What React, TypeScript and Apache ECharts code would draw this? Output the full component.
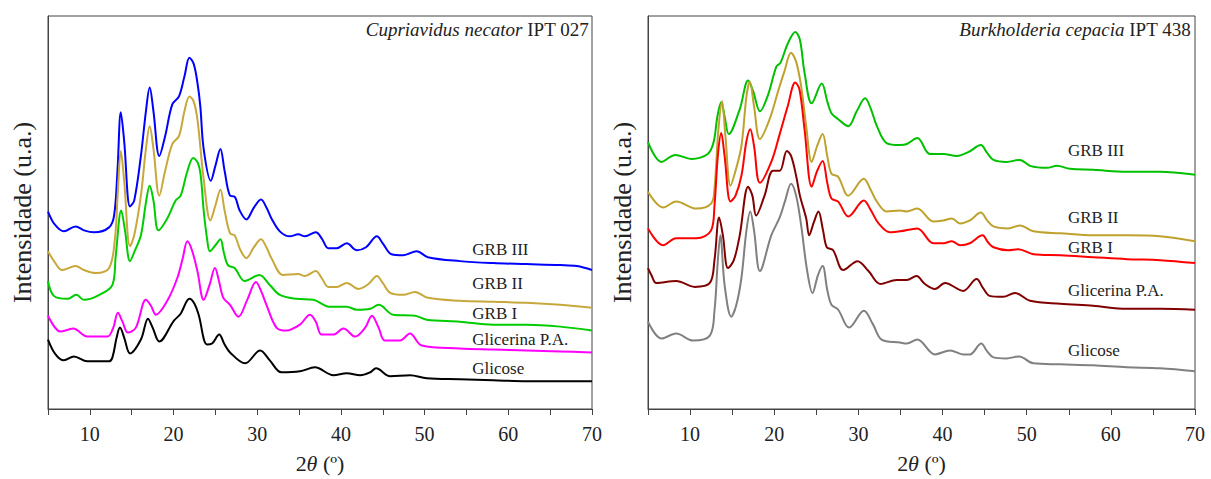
import React, { useEffect, useRef } from "react";
import * as echarts from "echarts";

// ---- data (x = 2θ in degrees, y = intensity in arbitrary units) ----
const xLabels = [10, 20, 30, 40, 50, 60, 70];

const namesLeft = ["GRB III", "GRB II", "GRB I", "Glicerina P.A.", "Glicose"];
const namesRight = ["GRB III", "GRB II", "GRB I", "Glicerina P.A.", "Glicose"];

const colorsLeft = ["#0000FF", "#C8A83C", "#00CC00", "#FF00FF", "#000000"];
const colorsRight = ["#00C000", "#BFA22E", "#FF0000", "#800000", "#808080"];

const leftGRB3 = [[5,199],[5.8,186],[6.9,179],[8.3,184],[9.3,180],[10.5,178],[12.3,183],[12.9,195],[13.3,240],[13.7,299],[14.1,270],[14.8,204],[15.3,210],[16.1,255],[16.7,300],[17.15,324],[17.6,300],[18.3,255],[19.0,275],[19.85,307],[20.65,315],[21.3,335],[21.9,354],[22.4,348],[22.85,329],[23.2,305],[23.6,262],[24.45,230],[25.0,245],[25.6,262],[26.1,240],[26.75,215],[27.3,214],[27.9,200],[28.7,191],[29.6,203],[30.45,211],[31.1,203],[31.7,192],[32.7,179],[33.9,174],[34.9,176],[35.7,174],[37.0,178],[37.7,172],[38.5,162],[39.5,162],[40.7,167],[41.9,160],[43.0,163],[44.3,174],[45.0,167],[46.05,156],[47.45,155],[49.05,159],[50.4,153],[54.2,149],[58.2,147],[62.2,146],[66.2,145],[68.2,144],[70,140]];
const leftGRB2 = [[5,159],[5.8,148],[6.7,140],[8.3,144],[9.3,140],[10.7,137],[12.3,142],[13.0,172],[13.35,220],[13.7,260],[14.1,230],[14.8,164],[15.3,175],[16.1,215],[16.7,262],[17.15,285],[17.6,262],[18.3,215],[19.0,240],[19.85,267],[20.65,275],[21.3,300],[21.9,315],[22.4,310],[22.85,292],[23.6,232],[24.4,190],[25.0,205],[25.6,221],[26.1,200],[26.75,177],[27.3,175],[28.0,160],[28.7,152],[29.6,163],[30.45,171],[31.1,163],[31.7,152],[33.1,135],[34.9,136],[35.7,134],[37.0,139],[37.7,132],[38.5,123],[39.5,123],[40.7,127],[42.1,121],[43.3,126],[44.3,134],[45.0,127],[45.9,117],[47.45,115],[48.85,118],[50.4,112],[54.2,109],[58.2,108],[62.2,107],[66.2,105],[70,102]];
const leftGRB1 = [[5,129],[5.7,114],[7.3,111],[8.4,115],[9.3,110],[10.9,114],[12.7,125],[13.1,155],[13.75,200],[14.2,180],[14.8,149],[15.4,160],[16.1,175],[16.7,208],[17.15,225],[17.6,210],[18.2,180],[19.25,192],[20.25,210],[20.85,215],[21.6,238],[22.35,253],[22.9,248],[23.25,235],[23.6,200],[24.0,172],[24.35,159],[25.0,165],[25.6,171],[26.0,158],[26.5,145],[27.3,142],[28.5,129],[30.25,135],[31.5,125],[32.7,115],[34.7,111],[36.7,110],[38.7,103],[40.7,103],[41.9,100],[43.5,101],[44.5,105],[46.25,95],[48.85,94],[50.25,90],[54.2,88],[58.2,85],[62.2,85],[66.2,83],[70,79]];
const leftGlicerina = [[5,94],[6.5,78],[8.0,81],[9.7,73],[12.1,73],[12.8,82],[13.35,97],[13.9,88],[14.55,77],[15.5,82],[16.7,110],[17.3,104],[17.9,95],[19.25,109],[20.45,132],[21.1,152],[21.65,169],[22.2,160],[22.85,139],[23.6,110],[24.3,125],[24.95,142],[25.4,130],[25.95,112],[26.75,105],[27.75,93],[28.8,110],[29.85,128],[30.5,118],[31.1,105],[32.3,82],[33.5,79],[35.1,85],[36.3,95],[37.0,88],[37.7,75],[39.1,75],[40.3,81],[41.7,73],[42.9,82],[43.7,94],[44.5,82],[45.25,69],[47.05,69],[48.25,76],[49.65,64],[54.2,61],[58.2,60],[62.2,59],[66.2,58],[70,57]];
const leftGlicose = [[5,70],[5.9,55],[6.9,49],[8.1,53],[9.7,48],[12.3,48],[12.7,52],[13.2,72],[13.6,82],[14.1,72],[14.8,56],[16.1,70],[16.95,91],[17.5,82],[18.3,68],[20.05,89],[20.85,96],[21.9,111],[22.5,106],[23.0,95],[24.0,65],[24.6,66],[25.45,75],[26.1,65],[26.75,57],[28.55,46],[30.35,59],[31.5,49],[32.9,37],[35.1,38],[36.9,42],[39.1,34],[40.7,36],[42.3,34],[43.5,37],[44.2,41],[45.9,33],[48.25,34],[50.25,31],[54.2,30],[58.2,29],[62.2,28],[66.2,28],[70,28]];

const rightGRB3 = [[5,269],[6.6,249],[8.25,256],[10.15,252],[12.1,257],[12.8,269],[13.25,295],[13.7,309],[14.1,295],[14.6,277],[15.9,302],[16.9,331],[17.5,320],[18.3,300],[19.25,316],[20.25,345],[20.75,349],[21.6,368],[22.5,380],[23.05,372],[23.6,339],[24.45,308],[25.65,328],[26.3,310],[26.8,298],[27.6,292],[28.8,285],[29.8,300],[30.8,313],[31.5,302],[32.2,285],[33.35,268],[34.95,266],[35.75,267],[37.0,273],[38.5,257],[40.1,257],[41.7,255],[43.1,259],[44.55,266],[45.3,258],[46.05,251],[47.6,249],[49.2,251],[50.4,245],[52.4,243],[53.6,245],[55.15,242],[57.9,241],[61.9,239],[65.85,239],[67.8,238],[70,236]];
const rightGRB2 = [[5,219],[6.8,203],[8.35,209],[10.75,202],[12.5,207],[12.9,222],[13.35,280],[13.8,310],[14.2,275],[14.8,225],[15.4,240],[16.1,265],[16.7,315],[17.1,330],[17.6,305],[18.3,272],[19.45,292],[20.45,320],[21.2,340],[22.0,359],[22.6,350],[23.2,325],[23.8,285],[24.45,249],[25.1,265],[25.75,277],[26.3,255],[26.8,237],[27.6,234],[28.8,215],[30.65,232],[31.4,222],[32.2,209],[33.35,199],[34.95,200],[35.75,199],[37.0,202],[38.9,189],[40.1,190],[41.1,192],[42.1,187],[43.25,190],[44.55,198],[45.3,190],[46.05,184],[47.8,182],[49.2,185],[50.8,179],[54.0,177],[57.9,175],[61.9,175],[65.85,174],[70,169]];
const rightGRB1 = [[5,182],[6.8,165],[8.35,172],[10.75,172],[12.5,180],[12.9,205],[13.3,255],[13.7,278],[14.1,255],[14.8,209],[15.4,215],[16.1,235],[16.7,270],[17.15,282],[17.6,265],[18.3,228],[19.65,249],[20.65,277],[21.6,305],[22.5,329],[23.0,322],[23.6,282],[24.45,224],[25.1,240],[25.75,250],[26.3,228],[26.8,212],[27.6,209],[28.8,194],[30.65,210],[31.5,200],[32.4,187],[33.75,178],[34.95,179],[37.0,182],[38.9,167],[40.1,167],[41.1,169],[42.1,165],[43.25,167],[44.75,175],[45.4,168],[46.05,163],[47.8,160],[49.0,161],[50.8,156],[54.0,155],[57.9,153],[61.9,151],[65.85,150],[70,147]];
const rightGlicerina = [[5,142],[5.4,135],[6.0,127],[8.35,129],[10.55,123],[12.35,127],[12.9,150],[13.45,193],[13.9,175],[14.5,142],[15.2,150],[15.9,175],[16.9,224],[17.4,215],[17.85,195],[18.85,215],[19.85,240],[20.65,240],[21.5,260],[22.0,255],[22.6,235],[23.05,215],[23.8,192],[24.15,175],[24.7,188],[25.25,199],[25.8,180],[26.25,163],[27.0,160],[28.2,140],[29.9,149],[31.2,139],[32.6,126],[34.55,130],[35.75,130],[36.9,134],[37.9,126],[39.1,121],[40.3,127],[42.45,119],[44.05,131],[44.8,122],[45.6,114],[47.2,113],[48.6,117],[50.4,109],[54.0,106],[57.9,104],[61.9,101],[65.85,101],[70,100]];
const rightGlicose = [[5,88],[6.6,71],[8.35,76],[10.35,69],[12.35,74],[12.9,99],[13.3,150],[13.6,175],[14.1,125],[14.9,93],[15.5,105],[16.1,132],[16.7,180],[17.15,199],[17.6,180],[18.3,139],[19.65,175],[20.65,193],[21.3,210],[22.0,227],[22.6,215],[23.2,185],[23.9,140],[24.55,117],[25.2,135],[25.75,144],[26.3,120],[26.8,105],[27.6,100],[28.9,82],[30.65,99],[31.75,85],[32.75,70],[34.95,67],[35.75,66],[37.0,70],[39.1,55],[40.9,59],[42.45,55],[43.25,55],[44.6,66],[45.3,58],[46.05,52],[47.6,51],[49.1,53],[50.8,46],[54.0,45],[57.9,44],[61.9,42],[65.85,41],[70,38]];

// label anchor points (data coordinates) for the curve names
const labelAnchorsLeft = [[55.7,161],[55.7,126],[55.7,96],[55.7,70],[55.7,41]];
const labelAnchorsRight = [[54.9,260],[54.9,193],[54.9,163],[54.9,119],[54.9,59]];

const dataLeft = [leftGRB3, leftGRB2, leftGRB1, leftGlicerina, leftGlicose];
const dataRight = [rightGRB3, rightGRB2, rightGRB1, rightGlicerina, rightGlicose];

const FONT = "'Liberation Serif', 'Times New Roman', serif";
const AXIS_COLOR = "#444";
const TEXT_COLOR = "#222";

function makeXAxis(gridIndex: number) {
  return {
    type: "value",
    gridIndex,
    min: 5,
    max: 70,
    interval: 5,
    name: "2{i|θ} (º)",
    nameLocation: "middle",
    nameGap: 43,
    nameTextStyle: {
      fontFamily: FONT,
      fontSize: 22,
      color: TEXT_COLOR,
      rich: { i: { fontStyle: "italic", fontFamily: FONT, fontSize: 22, color: TEXT_COLOR } },
    },
    axisLine: { show: true, lineStyle: { color: AXIS_COLOR, width: 1 } },
    axisTick: { show: true, length: 6, lineStyle: { color: AXIS_COLOR } },
    axisLabel: {
      margin: 15,
      fontFamily: FONT,
      fontSize: 20,
      color: TEXT_COLOR,
      formatter: (v: number) => (xLabels.includes(v) ? String(v) : ""),
    },
    splitLine: { show: false },
  };
}

function makeYAxis(gridIndex: number) {
  return {
    type: "value",
    gridIndex,
    min: 0,
    max: 396,
    name: "Intensidade (u.a.)",
    nameLocation: "middle",
    nameGap: 13,
    nameRotate: 90,
    nameTextStyle: { fontFamily: FONT, fontSize: 26, color: TEXT_COLOR },
    axisLine: { show: true, lineStyle: { color: AXIS_COLOR, width: 1 } },
    axisTick: { show: false },
    axisLabel: { show: false },
    splitLine: { show: false },
  };
}

function makeSeries(
  names: string[],
  datas: number[][][],
  colors: string[],
  anchors: number[][],
  axisIndex: number
) {
  return names.map((name, i) => ({
    type: "line",
    name,
    xAxisIndex: axisIndex,
    yAxisIndex: axisIndex,
    data: datas[i],
    showSymbol: false,
    symbol: "none",
    smooth: 0.35,
    lineStyle: { color: colors[i], width: 2 },
    itemStyle: { color: colors[i] },
    markPoint: {
      silent: true,
      symbol: "circle",
      symbolSize: 0,
      itemStyle: { color: "transparent" },
      label: {
        show: true,
        position: "right",
        distance: 0,
        formatter: name,
        fontFamily: FONT,
        fontSize: 17,
        color: TEXT_COLOR,
      },
      data: [{ coord: anchors[i], name }],
    },
  }));
}

function makeTitle(italicPart: string, rest: string, right: number) {
  return {
    text: `{i|${italicPart}} ${rest}`,
    right,
    top: 20,
    padding: 0,
    textStyle: {
      fontFamily: FONT,
      fontSize: 19,
      fontWeight: "normal",
      color: TEXT_COLOR,
      rich: { i: { fontStyle: "italic", fontFamily: FONT, fontSize: 19, color: TEXT_COLOR } },
    },
  };
}

export default function App() {
  const ref = useRef<HTMLDivElement>(null);

  useEffect(() => {
    document.body.style.margin = "0";
    if (!ref.current) return;
    const chart = echarts.init(ref.current, undefined, { renderer: "svg" });
    chart.setOption({
      animation: false,
      backgroundColor: "#fff",
      title: [
        makeTitle("Cupriavidus necator", "IPT 027", 622),
        makeTitle("Burkholderia cepacia", "IPT 438", 20),
      ],
      grid: [
        { left: 48, top: 16, width: 544, height: 396, show: true, borderColor: AXIS_COLOR, borderWidth: 1 },
        { left: 648, top: 16, width: 547, height: 396, show: true, borderColor: AXIS_COLOR, borderWidth: 1 },
      ],
      xAxis: [makeXAxis(0), makeXAxis(1)],
      yAxis: [makeYAxis(0), makeYAxis(1)],
      series: [
        ...makeSeries(namesLeft, dataLeft, colorsLeft, labelAnchorsLeft, 0),
        ...makeSeries(namesRight, dataRight, colorsRight, labelAnchorsRight, 1),
      ],
    });
    return () => chart.dispose();
  }, []);

  return <div ref={ref} style={{ width: 1211, height: 479 }} />;
}
